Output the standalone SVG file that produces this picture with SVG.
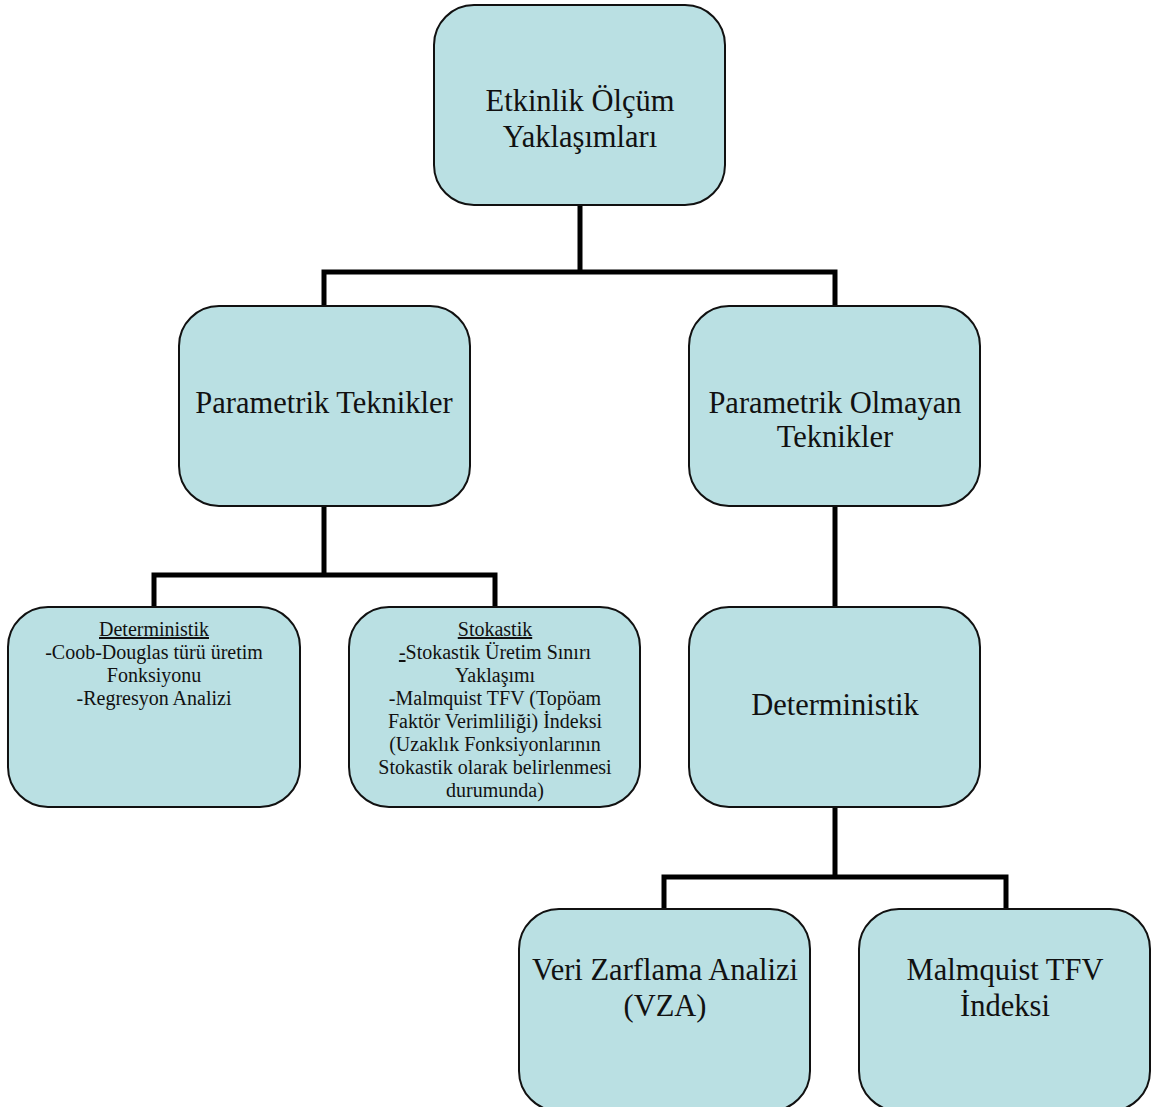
<svg xmlns="http://www.w3.org/2000/svg" width="1153" height="1107" viewBox="0 0 1153 1107">
<style>
.box{fill:#BAE0E3;stroke:#111;stroke-width:2}
.big{font-family:"Liberation Serif","Times New Roman",serif;font-size:30.5px;fill:#111;text-anchor:middle}
.sm{font-family:"Liberation Serif","Times New Roman",serif;font-size:20px;fill:#111;text-anchor:middle}
.conn{fill:none;stroke:#000;stroke-width:5}
</style>
<rect width="1153" height="1107" fill="#fff"/>
<g id="connectors">
<path class="conn" d="M580 205V272M324 306V272H835V306"/>
<path class="conn" d="M324 506V575M154 607V575H495V607"/>
<path class="conn" d="M835 506V607"/>
<path class="conn" d="M835 807V877M664 909V877H1006V909"/>
</g>
<g id="n-root">
<rect class="box" x="434" y="5" width="291" height="200" rx="40"/>
<text class="big" x="580" y="111">Etkinlik Ölçüm</text>
<text class="big" x="580" y="147">Yaklaşımları</text>
</g>
<g id="n-param">
<rect class="box" x="179" y="306" width="291" height="200" rx="40"/>
<text class="big" x="324" y="413">Parametrik Teknikler</text>
</g>
<g id="n-nonparam">
<rect class="box" x="689" y="306" width="291" height="200" rx="40"/>
<text class="big" x="835" y="413">Parametrik Olmayan</text>
<text class="big" x="835" y="447">Teknikler</text>
</g>
<g id="n-det-left">
<rect class="box" x="8" y="607" width="292" height="200" rx="40"/>
<text class="sm" x="154" y="636" text-decoration="underline">Deterministik</text>
<text class="sm" x="154" y="659">-Coob-Douglas türü üretim</text>
<text class="sm" x="154" y="682">Fonksiyonu</text>
<text class="sm" x="154" y="705">-Regresyon Analizi</text>
</g>
<g id="n-stok">
<rect class="box" x="349" y="607" width="291" height="200" rx="40"/>
<text class="sm" x="495" y="636" text-decoration="underline">Stokastik</text>
<text class="sm" x="495" y="659"><tspan text-decoration="underline">-</tspan>Stokastik Üretim Sınırı</text>
<text class="sm" x="495" y="682">Yaklaşımı</text>
<text class="sm" x="495" y="705">-Malmquist TFV (Topöam</text>
<text class="sm" x="495" y="728">Faktör Verimliliği) İndeksi</text>
<text class="sm" x="495" y="751">(Uzaklık Fonksiyonlarının</text>
<text class="sm" x="495" y="774">Stokastik olarak belirlenmesi</text>
<text class="sm" x="495" y="797">durumunda)</text>
</g>
<g id="n-det-right">
<rect class="box" x="689" y="607" width="291" height="200" rx="40"/>
<text class="big" x="835" y="715">Deterministik</text>
</g>
<g id="n-vza">
<rect class="box" x="519" y="909" width="291" height="202" rx="40"/>
<text class="big" x="665" y="980">Veri Zarflama Analizi</text>
<text class="big" x="665" y="1016">(VZA)</text>
</g>
<g id="n-malm">
<rect class="box" x="859" y="909" width="291" height="202" rx="40"/>
<text class="big" x="1005" y="980">Malmquist TFV</text>
<text class="big" x="1005" y="1016">İndeksi</text>
</g>
</svg>
